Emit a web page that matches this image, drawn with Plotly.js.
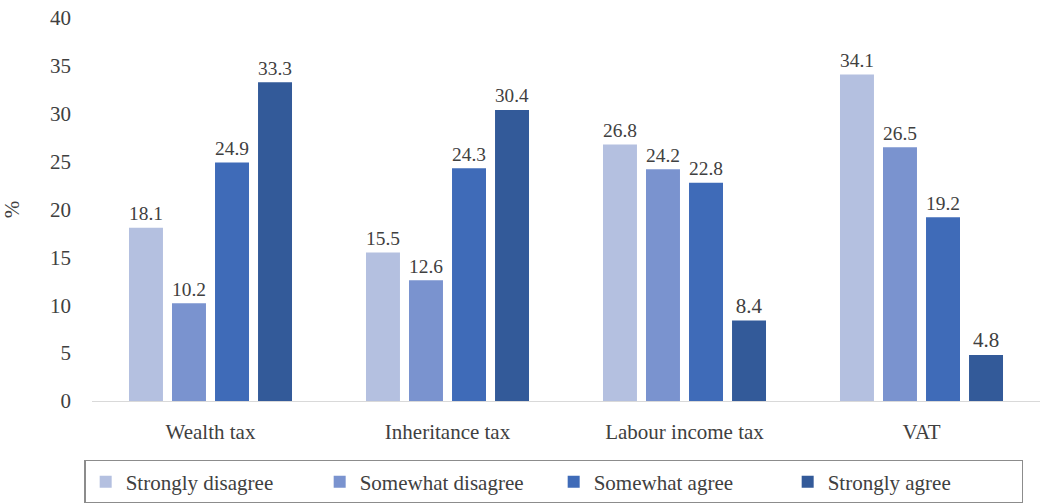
<!DOCTYPE html>
<html>
<head>
<meta charset="utf-8">
<script src="https://cdn.plot.ly/plotly-3.0.1.min.js"></script>
<style>html,body{margin:0;padding:0;background:#fff;}#chart{width:1046px;height:503px;}</style>
</head>
<body>
<div id="chart"></div>
<script>
const categories = ["Wealth tax", "Inheritance tax", "Labour income tax", "VAT"];
const seriesNames = ["Strongly disagree", "Somewhat disagree", "Somewhat agree", "Strongly agree"];
const stronglyDisagree = [18.1, 15.5, 26.8, 34.1];
const somewhatDisagree = [10.2, 12.6, 24.2, 26.5];
const somewhatAgree = [24.9, 24.3, 22.8, 19.2];
const stronglyAgree = [33.3, 30.4, 8.4, 4.8];
const colors = ["#B4C0E0", "#7A93CF", "#3F6BB8", "#335A99"];
const yTicks = [0, 5, 10, 15, 20, 25, 30, 35, 40];

const font = {family: "Liberation Serif, DejaVu Serif, Times New Roman, serif", color: "#404040", size: 21};
const allSeries = [stronglyDisagree, somewhatDisagree, somewhatAgree, stronglyAgree];
const traces = allSeries.map((vals, i) => ({
  type: "bar",
  name: seriesNames[i],
  x: categories,
  y: vals,
  marker: {color: colors[i]},
  text: vals.map(v => v.toFixed(1)),
  textposition: "outside",
  textfont: font,
  cliponaxis: false,
  hoverinfo: "x+y+name"
}));

const layout = {
  width: 1046, height: 503,
  margin: {l: 92, r: 6, t: 18, b: 102, autoexpand: false},
  paper_bgcolor: "#fff", plot_bgcolor: "#fff",
  font: font,
  barmode: "group",
  bargap: 0.274,
  bargroupgap: 0.21,
  showlegend: true,
  legend: {
    orientation: "h",
    x: 0.487, xanchor: "center",
    y: -0.154, yanchor: "top",
    font: font,
    bordercolor: "#8c8c8c", borderwidth: 1.5,
    bgcolor: "#fff",
    traceorder: "normal",
    itemwidth: 30,
    entrywidth: 189, entrywidthmode: "pixels"
  },
  xaxis: {
    showline: true, linecolor: "#d9d9d9", linewidth: 1,
    ticks: "", tickfont: font, showgrid: false, zeroline: false,
    ticklabelstandoff: 12
  },
  yaxis: {
    range: [0, 40], tickvals: yTicks, ticktext: yTicks.map(String),
    showgrid: false, zeroline: false, showline: false, ticks: "",
    tickfont: font, ticklabelstandoff: 20,
    title: {text: "%", font: font, standoff: 24}
  }
};

Plotly.newPlot("chart", traces, layout, {displayModeBar: false, staticPlot: true});
</script>
</body>
</html>
